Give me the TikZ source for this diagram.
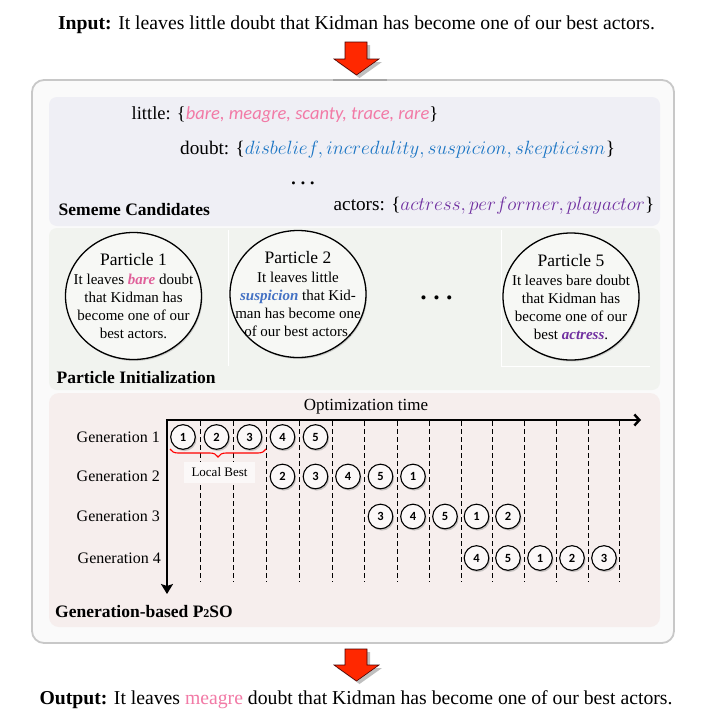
\RequirePackage{fix-cm}
\documentclass[tikz,border=0pt]{standalone}
\usepackage{fontspec}
\setmainfont{Liberation Serif}
\newfontfamily\calfont{Carlito}
\usetikzlibrary{shapes.geometric,shadows,decorations.pathreplacing,arrows.meta}
\definecolor{outerfill}{RGB}{250,250,250}
\definecolor{outerline}{RGB}{200,200,200}
\definecolor{semfill}{RGB}{239,239,245}
\definecolor{partfill}{RGB}{241,243,239}
\definecolor{genfill}{RGB}{246,238,237}
\definecolor{sempink}{RGB}{242,122,166}
\definecolor{pinkdark}{RGB}{224,96,154}
\definecolor{semblue}{RGB}{27,117,196}
\definecolor{partblue}{RGB}{68,114,196}
\definecolor{sempurple}{RGB}{112,48,160}
\definecolor{arrowred}{RGB}{255,40,0}
\tikzset{
  seltext/.style={anchor=west,inner sep=0pt,font=\fontsize{18.5}{22}\selectfont},
  mathtext/.style={anchor=west,inner sep=0pt,font=\fontsize{19.2}{22}\selectfont},
  paneltitle/.style={anchor=west,inner sep=0pt,font=\bfseries\fontsize{17.5}{20}\selectfont},
  pcircle/.style={ellipse,draw=black,line width=1.3pt,fill=partfill!60!white,minimum width=136pt,minimum height=127pt,inner sep=0pt,
     drop shadow={shadow xshift=1pt,shadow yshift=-1.5pt,opacity=0.35}},
  ptext/.style={align=center,inner sep=0pt,font=\fontsize{15}{18}\selectfont},
  gcirc/.style={circle,draw=black,line width=1.1pt,fill=genfill!40!white,minimum size=24.6pt,inner sep=0pt,
     font=\calfont\bfseries\fontsize{12.5}{12.5}\selectfont,
     drop shadow={shadow xshift=1.3pt,shadow yshift=-1.8pt,opacity=0.4}},
  genlabel/.style={anchor=east,inner sep=0pt,font=\fontsize{16}{16}\selectfont},
  dashline/.style={draw=black,line width=0.8pt,dash pattern=on 5pt off 3pt},
  axisline/.style={draw=black,line width=2.4pt},
  redarrow/.style={fill=arrowred,draw=black!70!red,line width=0.6pt,
     drop shadow={shadow xshift=3pt,shadow yshift=-3pt,opacity=0.5}},
}
\begin{document}
\begin{tikzpicture}[x=1pt,y=-1pt]
\useasboundingbox (0,0) rectangle (713,720);
\fill[white] (0,0) rectangle (713,720);

% input / output
\node[anchor=base,inner sep=0pt,font=\fontsize{19.7}{24}\selectfont] (input) at (356.5,29)
  {\textbf{Input:} It leaves little doubt that Kidman has become one of our best actors.};
\node[anchor=base,inner sep=0pt,font=\fontsize{19.7}{24}\selectfont] (output) at (356,704)
  {\textbf{Output:} It leaves {\color{sempink}meagre} doubt that Kidman has become one of our best actors.};

% outer box
\draw[draw=outerline,line width=1.8pt,fill=outerfill,rounded corners=12pt] (32,80) rectangle (674,643);
\draw[draw=black!35,line width=2.2pt] (333,80) -- (387,80);

% arrows
\path[redarrow] (345,42) -- (367,42) -- (367,59) -- (379,59) -- (356.5,75) -- (334,59) -- (345,59) -- cycle;
\path[redarrow] (345,649) -- (367,649) -- (367,665) -- (379,665) -- (356.5,681) -- (334,665) -- (345,665) -- cycle;

% panels
\fill[semfill,rounded corners=8pt] (49,97) rectangle (660,226);
\fill[partfill,rounded corners=8pt] (49,228) rectangle (660,390);
\fill[genfill,rounded corners=10pt] (49,393) rectangle (660,627);

% sememe candidates
\node[seltext] (little) at (131.5,115)
  {little: \{{\calfont\itshape\color{sempink}bare, meagre, scanty, trace, rare}\}};
\node[mathtext] (doubt) at (180,150)
  {doubt: \{{\color{semblue}$disbelief, incredulity, suspicion, skepticism$}\}};
\node[inner sep=0pt,font=\fontsize{12.5}{12.5}\selectfont] (semdots) at (303,185)
  {\textbullet\hspace{5pt}\textbullet\hspace{5pt}\textbullet};
\node[mathtext] (actors) at (333.5,206)
  {actors: \{{\color{sempurple}$actress, performer, playactor$}\}};
\node[paneltitle] (semtitle) at (58.5,210) {Sememe Candidates};

% particle initialization
\draw[white,line width=1pt] (228,230) -- (228,366);
\draw[white,line width=1pt] (501,230) -- (501,366);
\draw[white,line width=1pt] (501,366) -- (650,366);
\node[pcircle] (p1) at (133.5,296) {};
\node[ptext] (p1t) at (133.5,296.5)
  {{\fontsize{17.5}{20}\selectfont Particle 1}\\[1pt]
   It leaves {\color{pinkdark}\bfseries\itshape bare} doubt\\
   that Kidman has\\ become one of our\\ best actors.};
\node[pcircle] (p2) at (298,294) {};
\node[ptext] (p2t) at (298,294.5)
  {{\fontsize{17.5}{20}\selectfont Particle 2}\\[1pt]
   It leaves little\\
   {\color{partblue}\bfseries\itshape suspicion} that Kid-\\
   man has become one\\ of our best actors.};
\node[inner sep=0pt,font=\fontsize{17}{17}\selectfont] (pdots) at (436.5,300)
  {\textbullet\hspace{7pt}\textbullet\hspace{7pt}\textbullet};
\node[pcircle] (p5) at (571,296.5) {};
\node[ptext] (p5t) at (571,297)
  {{\fontsize{17.5}{20}\selectfont Particle 5}\\[1pt]
   It leaves bare doubt\\ that Kidman has\\ become one of our\\
   best {\color{sempurple}\bfseries\itshape actress}.};
\node[paneltitle] (parttitle) at (56.5,378) {Particle Initialization};

% generation-based P2SO
\node[inner sep=0pt,font=\fontsize{17}{17}\selectfont] (opttime) at (366,407) {Optimization time};
\coordinate (origin) at (167,420);
\foreach \x in {200,233,266.5,299,332,364.5,397.5,429,461,492,524.5,556,588,619.5}
  \draw[dashline] (\x,421) -- (\x,582);
\draw[axisline,-{Straight Barb[length=5pt,width=11pt]}] (165.8,420) -- (641,420) coordinate (tend);
\draw[axisline,-{Stealth[length=10pt,width=12pt,inset=2pt]}] (167,419) -- (167,594) coordinate (vend);

\node[genlabel] (gen1) at (160,437) {Generation 1};
\node[genlabel] (gen2) at (160,476.5) {Generation 2};
\node[genlabel] (gen3) at (160,516.5) {Generation 3};
\node[genlabel] (gen4) at (161,558) {Generation 4};

\foreach \k/\x/\l in {1/183/1,2/216.5/2,3/249.5/3,4/282.5/4,5/315.5/5}
  \node[gcirc] (ga\k) at (\x,437) {\l};
\foreach \k/\x/\l in {1/282.5/2,2/315.5/3,3/348/4,4/380.5/5,5/413/1}
  \node[gcirc] (gb\k) at (\x,476.5) {\l};
\foreach \k/\x/\l in {1/380.5/3,2/413/4,3/445/5,4/476.5/1,5/508/2}
  \node[gcirc] (gc\k) at (\x,516.5) {\l};
\foreach \k/\x/\l in {1/476.5/4,2/508/5,3/540/1,4/572/2,5/604/3}
  \node[gcirc] (gd\k) at (\x,558) {\l};

\draw[red,line width=1.1pt,decorate,decoration={brace,mirror,amplitude=8pt}] (170,449) -- (266,449);
\node[fill=genfill!40!white,minimum width=71pt,minimum height=21pt,inner sep=0pt,
      font=\fontsize{13}{13}\selectfont] (localbest) at (219.5,472.5) {Local Best};

\node[paneltitle] (gentitle) at (55,612) {Generation-based P{\fontsize{12}{12}\selectfont 2}SO};
\end{tikzpicture}
\end{document}
